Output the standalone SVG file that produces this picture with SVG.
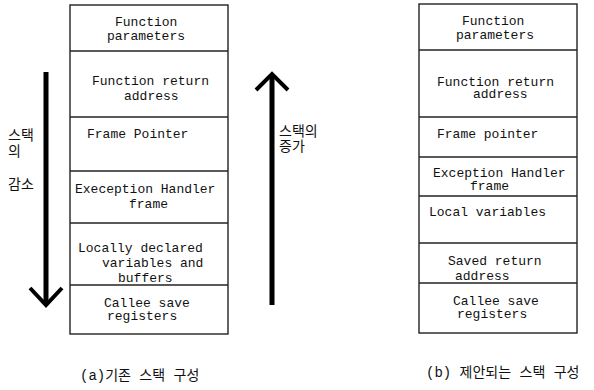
<svg xmlns="http://www.w3.org/2000/svg" width="594" height="390" viewBox="0 0 594 390">
<style>
.box{fill:#fff;stroke:#222;stroke-width:1.4}
.sep{stroke:#222;stroke-width:1.4}
.t{font-family:"Liberation Mono","DejaVu Sans Mono",monospace;font-size:13px;fill:#111}
.k{font-family:"Liberation Mono","Noto Sans CJK KR",monospace;font-size:14px;fill:#111}
.shaft{stroke:#000;stroke-width:5;fill:none}
.head{stroke:#000;stroke-width:4;fill:none;stroke-linejoin:miter}
</style>
<rect width="594" height="390" fill="#fff"/>
<g id="stack-a">
<rect class="box" x="70" y="5" width="158" height="329"/>
<g id="a-params"><line class="sep" x1="70" y1="51" x2="228" y2="51"/><text class="t" x="115" y="26">Function</text><text class="t" x="107" y="40">parameters</text></g>
<g id="a-retaddr"><line class="sep" x1="70" y1="117" x2="228" y2="117"/><text class="t" x="92" y="85">Function return</text><text class="t" x="124" y="100">address</text></g>
<g id="a-fp"><line class="sep" x1="70" y1="171" x2="228" y2="171"/><text class="t" x="87" y="138">Frame Pointer</text></g>
<g id="a-eh"><line class="sep" x1="70" y1="223" x2="228" y2="223"/><text class="t" x="75" y="193">Exeception Handler</text><text class="t" x="129" y="208">frame</text></g>
<g id="a-locals"><line class="sep" x1="70" y1="285" x2="228" y2="285"/><text class="t" x="78" y="252">Locally declared</text><text class="t" x="102" y="267">variables and</text><text class="t" x="118" y="282">buffers</text></g>
<g id="a-callee"><text class="t" x="104" y="307">Callee save</text><text class="t" x="107" y="320">registers</text></g>
</g>
<g id="stack-b">
<rect class="box" x="419" y="4" width="158" height="329"/>
<g id="b-params"><line class="sep" x1="419" y1="50" x2="577" y2="50"/><text class="t" x="462" y="25">Function</text><text class="t" x="456" y="39">parameters</text></g>
<g id="b-retaddr"><line class="sep" x1="419" y1="117" x2="577" y2="117"/><text class="t" x="437" y="86">Function return</text><text class="t" x="473" y="98">address</text></g>
<g id="b-fp"><line class="sep" x1="419" y1="157" x2="577" y2="157"/><text class="t" x="437" y="138">Frame pointer</text></g>
<g id="b-eh"><line class="sep" x1="419" y1="196" x2="577" y2="196"/><text class="t" x="433" y="177">Exception Handler</text><text class="t" x="470" y="190">frame</text></g>
<g id="b-locals"><line class="sep" x1="419" y1="243" x2="577" y2="243"/><text class="t" x="429" y="216">Local variables</text></g>
<g id="b-saved"><line class="sep" x1="419" y1="283" x2="577" y2="283"/><text class="t" x="448" y="265">Saved return</text><text class="t" x="455" y="280">address</text></g>
<g id="b-callee"><text class="t" x="453" y="305">Callee save</text><text class="t" x="457" y="318">registers</text></g>
</g>
<g id="connectors">
<line class="shaft" x1="46" y1="72" x2="46" y2="304"/>
<polyline class="head" points="30,288 46,305 62,288"/>
<line class="shaft" x1="272" y1="75" x2="272" y2="305"/>
<polyline class="head" points="256,90 272,74 288,90"/>
</g>
<g id="labels">
<text class="k" x="8" y="140">스택</text>
<text class="k" x="8" y="156">의</text>
<text class="k" x="8" y="189">감소</text>
<text class="k" x="279" y="136">스택의</text>
<text class="k" x="279" y="151">증가</text>
<text class="k" x="80" y="380">(a)기존 스택 구성</text>
<text class="k" x="426" y="377">(b) 제안되는 스택 구성</text>
</g>
</svg>
